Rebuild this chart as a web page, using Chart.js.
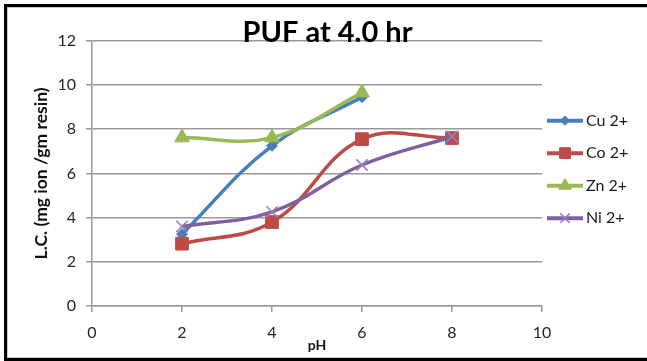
<!DOCTYPE html>
<html><head><meta charset="utf-8">
<script src="https://cdn.jsdelivr.net/npm/chart.js@4/dist/chart.umd.min.js"></script>
<style>
html,body{margin:0;padding:0;background:#fff;width:647px;height:361px;overflow:hidden;}
#frame{position:absolute;left:4px;top:4px;width:700px;height:351px;border:3px solid #000;}
#inner{position:absolute;left:7px;top:7px;width:700px;height:349px;border:1px solid #c8c8c8;}
#wrap{position:absolute;left:0;top:0;width:647px;height:361px;}
</style></head>
<body>
<div id="frame"></div><div id="inner"></div>
<div id="wrap"><canvas id="c" width="647" height="361"></canvas></div>
<script>
// ---- data ----
const chartTitle = 'PUF at 4.0 hr';
const xTitle = 'pH';
const yTitle = 'L.C. (mg ion /gm resin)';
const phLevels = [2, 4, 6, 8];
const seriesNames = ['Cu 2+', 'Co 2+', 'Zn 2+', 'Ni 2+'];
const cuValues = [3.25, 7.25, 9.45];
const coValues = [2.82, 3.8, 7.55, 7.6];
const znValues = [7.62, 7.62, 9.65];
const niValues = [3.6, 4.26, 6.38, 7.66];
const xTicks = [0, 2, 4, 6, 8, 10];
const yTicks = [0, 2, 4, 6, 8, 10, 12];

// ---- style ----
const FONT = 'Lato, "Open Sans", "Liberation Sans", sans-serif';
const colors = ['#4A7EBB', '#BE4B48', '#98B954', '#7D60A0'];
const markerBorder = ['#4A7EBB', '#BE4B48', '#98B954', '#9580BA'];
const pointStyles = ['rectRot', 'rect', 'triangle', 'crossRot'];
const pointRadii = [5.5, 9, 8.5, 8];
const markerBW = [1, 1, 1, 1.6];

const allValues = [cuValues, coValues, znValues, niValues];
const toPoints = vals => vals.map((v, i) => ({x: phLevels[i], y: v}));

const datasets = allValues.map((vals, i) => ({
  label: seriesNames[i],
  data: toPoints(vals),
  borderColor: colors[i],
  backgroundColor: colors[i],
  borderWidth: 3.5,
  tension: 0.4,
  pointStyle: pointStyles[i],
  pointRadius: pointRadii[i],
  pointBackgroundColor: colors[i],
  pointBorderColor: markerBorder[i],
  pointBorderWidth: markerBW[i],
  order: 4 - i,
  clip: false
}));

const legendDeco = {
  id: 'legendDeco',
  beforeUpdate(chart) {
    const lg = chart.legend;
    if (lg && !lg._fixedWidth) {
      const orig = lg.fit;
      lg.fit = function () { orig.call(this); this.width = 105; };
      lg._fixedWidth = true;
    }
  },
  afterLayout(chart) {
    const t = chart.titleBlock;
    if (t) { t.left += 4; t.right += 4; }
    const lg = chart.legend;
    if (lg) { lg.top -= 4; lg.bottom -= 4; }
  },
  afterDraw(chart) {
    const lg = chart.legend;
    if (!lg || !lg.legendHitBoxes) return;
    const ctx = chart.ctx;
    lg.legendItems.forEach((item, k) => {
      const hb = lg.legendHitBoxes[k];
      const i = item.datasetIndex;
      const y = hb.top + hb.height / 2;
      const x0 = hb.left, x1 = hb.left + 36;
      ctx.save();
      ctx.strokeStyle = colors[i];
      ctx.lineWidth = 4;
      ctx.lineCap = 'butt';
      ctx.beginPath(); ctx.moveTo(x0, y); ctx.lineTo(x1, y); ctx.stroke();
      ctx.fillStyle = colors[i];
      ctx.strokeStyle = markerBorder[i];
      ctx.lineWidth = markerBW[i];
      Chart.helpers.drawPoint(ctx, {pointStyle: pointStyles[i], radius: pointRadii[i] * 0.85, rotation: 0, borderWidth: markerBW[i]}, (x0 + x1) / 2, y);
      ctx.restore();
    });
  }
};

const tickFont = {family: FONT, size: 16};
const gridColor = '#9a9a9a';

new Chart(document.getElementById('c'), {
  type: 'line',
  data: {datasets},
  plugins: [legendDeco],
  options: {
    responsive: false,
    animation: false,
    devicePixelRatio: 1,
    layout: {padding: 0},
    plugins: {
      title: {display: true, text: chartTitle, color: '#000',
        font: {family: FONT, size: 29, weight: 'bold'}, padding: {top: 15, bottom: -9}},
      legend: {
        position: 'right', fullSize: false, align: 'center',
        labels: {
          font: {family: FONT, size: 16}, color: '#1a1a1a',
          boxWidth: 31, boxHeight: 27.5, padding: 5,
          sort: (a, b) => a.datasetIndex - b.datasetIndex,
          generateLabels: (chart) => Chart.defaults.plugins.legend.labels.generateLabels(chart)
            .map(l => Object.assign(l, {fillStyle: 'rgba(0,0,0,0)', strokeStyle: 'rgba(0,0,0,0)', lineWidth: 0}))
        }
      },
      tooltip: {enabled: false}
    },
    scales: {
      x: {
        type: 'linear', min: xTicks[0], max: xTicks[xTicks.length - 1],
        afterBuildTicks: s => { s.ticks = xTicks.map(v => ({value: v})); },
        ticks: {font: tickFont, color: '#262626', padding: 11},
        grid: {drawOnChartArea: false, drawTicks: true, tickLength: 6, color: gridColor, lineWidth: 1.5},
        border: {color: gridColor, width: 1.5},
        title: {display: true, text: xTitle, color: '#111', font: {family: FONT, size: 14, weight: 'bold'}, padding: {top: 0, bottom: 7}},
        afterFit: s => { s.height = 55; }
      },
      y: {
        type: 'linear', min: yTicks[0], max: yTicks[yTicks.length - 1],
        afterBuildTicks: s => { s.ticks = yTicks.map(v => ({value: v})); },
        ticks: {font: tickFont, color: '#262626', padding: 10},
        grid: {color: gridColor, lineWidth: 1.5, tickLength: 6},
        border: {color: gridColor, width: 1.5},
        title: {display: true, text: yTitle, color: '#111', font: {family: FONT, size: 17.5, weight: 'bold'}, padding: {top: 31, bottom: 0}},
        afterFit: s => { s.width = 92; }
      }
    }
  }
});
</script>
</body></html>
